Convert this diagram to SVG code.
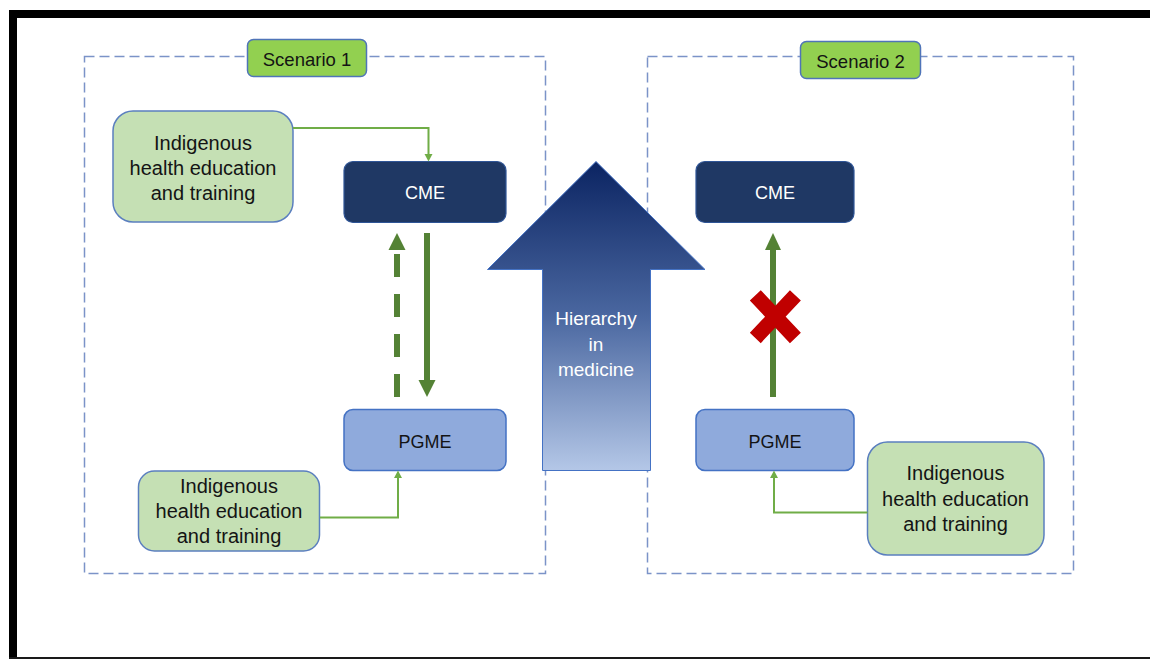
<svg xmlns="http://www.w3.org/2000/svg" width="1150" height="659" viewBox="0 0 1150 659">
<defs>
<style>
.frame{fill:none;stroke:#7b93c8;stroke-width:1.5;stroke-dasharray:10 5}
.scen{fill:#92d050;stroke:#4f74b8;stroke-width:1.5}
.ind{fill:#c5e0b4;stroke:#5b7fbf;stroke-width:1.5}
.cme{fill:#1f3864;stroke:#2f5597;stroke-width:1.2}
.pgme{fill:#8faadc;stroke:#4472c4;stroke-width:1.5}
.t{font-family:"Liberation Sans",Arial,sans-serif;text-anchor:middle;fill:#141414}
.tw{font-family:"Liberation Sans",Arial,sans-serif;text-anchor:middle;fill:#ffffff}
.thin{fill:none;stroke:#70ad47;stroke-width:2}
.thick{fill:none;stroke:#548235;stroke-width:6}
.head{fill:#548235}
.shead{fill:#70ad47}
</style>
<linearGradient id="hg" x1="0" y1="0" x2="0" y2="1">
<stop offset="0" stop-color="#0b2462"/>
<stop offset="0.5" stop-color="#4a67a0"/>
<stop offset="1" stop-color="#b4c7e7"/>
</linearGradient>
</defs>
<rect x="0" y="0" width="1150" height="659" fill="#ffffff"/>
<g id="border">
<rect x="9" y="10" width="1141" height="8" fill="#000"/>
<rect x="9" y="10" width="8" height="649" fill="#000"/>
<rect x="9" y="657" width="1141" height="2" fill="#1a1a1a"/>
</g>
<g id="frame1"><rect class="frame" x="84.5" y="56.5" width="461" height="517"/></g>
<g id="frame2"><rect class="frame" x="647.5" y="56.5" width="426" height="517"/></g>
<g id="hierarchy">
<path d="M596,161.5 L705,269.5 L650.5,269.5 L650.5,470.5 L542.5,470.5 L542.5,269.5 L487.5,269.5 Z" fill="url(#hg)" stroke="#4472c4" stroke-width="1"/>
<text class="tw" font-size="19"><tspan x="596" y="325">Hierarchy</tspan><tspan x="596" y="350.5">in</tspan><tspan x="596" y="376">medicine</tspan></text>
</g>
<g id="scenario1"><rect class="scen" x="247.5" y="39.5" width="119" height="37" rx="6"/><text class="t" x="307" y="65.5" font-size="18.5">Scenario 1</text></g>
<g id="scenario2"><rect class="scen" x="800.5" y="41.5" width="120" height="37" rx="6"/><text class="t" x="860.5" y="67.5" font-size="18.5">Scenario 2</text></g>
<g id="ind1"><rect class="ind" x="113" y="111" width="180" height="111" rx="20"/><text class="t" font-size="20"><tspan x="203" y="150">Indigenous</tspan><tspan x="203" y="175">health education</tspan><tspan x="203" y="200">and training</tspan></text></g>
<g id="cme1"><rect class="cme" x="344" y="161.5" width="162" height="61" rx="9"/><text class="tw" x="425" y="199" font-size="18">CME</text></g>
<g id="pgme1"><rect class="pgme" x="344" y="409.5" width="162" height="61" rx="9"/><text class="t" x="425" y="448" font-size="18">PGME</text></g>
<g id="ind2"><rect class="ind" x="138.5" y="471" width="181" height="80" rx="16"/><text class="t" font-size="20"><tspan x="229" y="492.5">Indigenous</tspan><tspan x="229" y="517.5">health education</tspan><tspan x="229" y="543">and training</tspan></text></g>
<g id="cme2"><rect class="cme" x="696" y="161.5" width="158" height="61" rx="9"/><text class="tw" x="775" y="199" font-size="18">CME</text></g>
<g id="pgme2"><rect class="pgme" x="696" y="409.5" width="158" height="61" rx="9"/><text class="t" x="775" y="447.5" font-size="18">PGME</text></g>
<g id="ind3"><rect class="ind" x="867.5" y="442" width="176.5" height="113" rx="20"/><text class="t" font-size="20"><tspan x="955.5" y="480">Indigenous</tspan><tspan x="955.5" y="505.5">health education</tspan><tspan x="955.5" y="531">and training</tspan></text></g>
<g id="connectors">
<path class="thin" d="M293,128 L428.5,128 L428.5,155"/>
<path class="shead" d="M424.5,154 L432.5,154 L428.5,161.5 Z"/>
<path class="thin" d="M320,517.5 L398,517.5 L398,477"/>
<path class="shead" d="M394,478 L402,478 L398,470.5 Z"/>
<path class="thin" d="M867.5,512.5 L774,512.5 L774,477"/>
<path class="shead" d="M770,478 L778,478 L774,470.5 Z"/>
<path class="thick" d="M397,397 L397,254" stroke-dasharray="23 17"/>
<path class="head" d="M388.5,250 L405.5,250 L397,233 Z"/>
<path class="thick" d="M427,233 L427,381"/>
<path class="head" d="M418.5,380 L435.5,380 L427,397 Z"/>
<path class="thick" d="M773,397 L773,249" stroke-width="5.5"/>
<path class="head" d="M765,250 L781,250 L773,233 Z"/>
</g>
<g id="cross">
<path d="M755.3,295.3 L795.4,338 M795.4,295.3 L755.3,338" stroke="#c00000" stroke-width="15" fill="none"/>
</g>
</svg>
